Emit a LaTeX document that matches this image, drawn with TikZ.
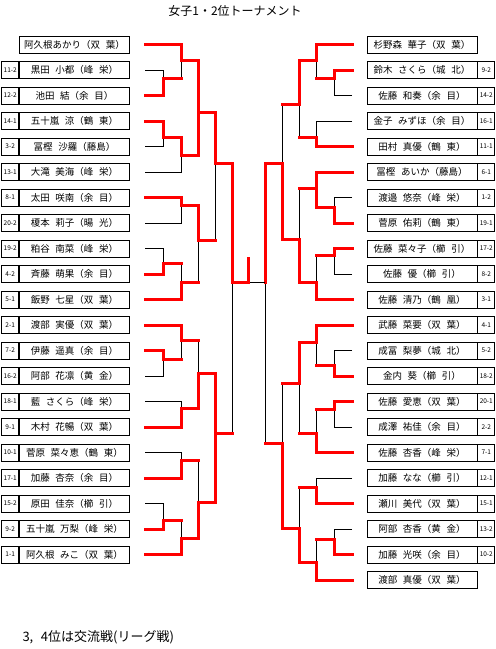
\documentclass[tikz,border=0pt]{standalone}
\usepackage{fontspec}
\setmainfont{Noto Sans CJK JP}[WordSpace=2.6]
\usetikzlibrary{positioning}

\begin{document}
\begin{tikzpicture}[x=1pt, y=-1pt,
  namebox/.style={draw, line width=0.8pt, minimum width=110pt, minimum height=17pt, inner sep=0pt, font=\fontsize{9.5}{10}\selectfont},
  seedbox/.style={draw, line width=0.8pt, minimum width=17pt, minimum height=17pt, inner sep=0pt, font=\fontsize{6.5}{7}\selectfont},
  win/.style={red, line width=3pt, line cap=rect},
  lose/.style={black, line width=0.8pt}]

  \useasboundingbox (0,0) rectangle (496,649);

  % Title and note
  \node[font=\fontsize{12}{14}\selectfont] (title) at (235,11) {女子1・2位トーナメント};
  \node[font=\fontsize{13}{15}\selectfont, anchor=west] (note) at (19,637) {3, 4位は交流戦(リーグ戦)};

  % Left Entries
  \foreach \k/\nm in {0/{阿久根あかり（双 葉）}, 1/{黒田 小都（峰 栄）}, 2/{池田 結（余 目）},
      3/{五十嵐 涼（鶴 東）}, 4/{冨樫 沙羅（藤島）}, 5/{大滝 美海（峰 栄）},
      6/{太田 咲南（余 目）}, 7/{榎本 莉子（暘 光）}, 8/{粕谷 南菜（峰 栄）},
      9/{斉藤 萌果（余 目）}, 10/{飯野 七星（双 葉）}, 11/{渡部 実優（双 葉）},
      12/{伊藤 遥真（余 目）}, 13/{阿部 花凛（黄 金）}, 14/{藍 さくら（峰 栄）},
      15/{木村 花暢（双 葉）}, 16/{菅原 菜々恵（鶴 東）}, 17/{加藤 杏奈（余 目）},
      18/{原田 佳奈（櫛 引）}, 19/{五十嵐 万梨（峰 栄）}, 20/{阿久根 みこ（双 葉）}} {
    \pgfmathsetmacro{\yy}{44.5+25.5*\k}
    \node[namebox] (L\k) at (74.5,\yy) {\nm};
    \coordinate (l\k) at (145,\yy);
  }
  \foreach \k/\sd in {1/11-2, 2/12-2, 3/14-1, 4/3-2, 5/13-1, 6/8-1, 7/20-2, 8/19-2, 9/4-2, 10/5-1,
      11/2-1, 12/7-2, 13/16-2, 14/18-1, 15/9-1, 16/10-1, 17/17-1, 18/15-2, 19/9-2, 20/1-1}
    \node[seedbox, left=0pt of L\k] (SL\k) {\sd};

  % Right Entries
  \foreach \k/\nm in {0/{杉野森 華子（双 葉）}, 1/{鈴木 さくら（城 北）}, 2/{佐藤 和奏（余 目）},
      3/{金子 みずほ（余 目）}, 4/{田村 真優（鶴 東）}, 5/{冨樫 あいか（藤島）}, 6/{渡邉 悠奈（峰 栄）},
      7/{菅原 佑莉（鶴 東）}, 8/{佐藤 菜々子（櫛 引）}, 9/{佐藤 優（櫛 引）}, 10/{佐藤 清乃（鶴 凰）},
      11/{武藤 菜要（双 葉）}, 12/{成冨 梨夢（城 北）}, 13/{金内 葵（櫛 引）}, 14/{佐藤 愛恵（双 葉）},
      15/{成澤 祐佳（余 目）}, 16/{佐藤 杏香（峰 栄）}, 17/{加藤 なな（櫛 引）}, 18/{瀬川 美代（双 葉）},
      19/{阿部 杏香（黄 金）}, 20/{加藤 光咲（余 目）}, 21/{渡部 真優（双 葉）}} {
    \pgfmathsetmacro{\yy}{44.5+25.5*\k}
    \node[namebox] (R\k) at (422,\yy) {\nm};
    \coordinate (r\k) at (352,\yy);
  }
  \foreach \k/\sd in {1/9-2, 2/14-2, 3/16-1, 4/11-1, 5/6-1, 6/1-2, 7/19-1, 8/17-2, 9/8-2, 10/3-1,
      11/4-1, 12/5-2, 13/18-2, 14/20-1, 15/2-2, 16/7-1, 17/12-1, 18/15-1, 19/13-2, 20/10-2}
    \node[seedbox, right=0pt of R\k] (SR\k) {\sd};

  % Match points
  \foreach \m/\x/\y in {a12/163/78, a02/181/60, a34/163/137, a35/181/155, a05/198/112,
      a67/181/205, a89/163/263, a810/181/282, a610/198/240, a010/215/163,
      a1213/163/359, a1113/181/340, a1415/181/408, a1115/198/373,
      a1617/181/460, a1819/163/520, a1820/181/538, a1620/198/502, a1120/215/433, sl/232/282,
      b12/334/78, b02/316/60, b34/316/137, b04/299/104, b67/334/207, b57/316/188,
      b89/334/255, b810/316/282, b510/299/239, b010/282/163,
      b1213/334/365, b1113/316/342, b1415/334/409, b1416/316/433, b1116/299/383,
      b1718/316/487, b1920/334/539, b1921/316/562, b1721/299/528, b1121/282/443, sr/265/282,
      champ/248.5/282, cup/248.5/258}
    \coordinate (\m) at (\x,\y);

  % Lost in first match
  \foreach \p/\m in {l1/a12, l4/a34, l5/a35, l7/a67, l8/a89, l13/a1213, l14/a1415, l16/a1617, l18/a1819,
      r2/b12, r3/b34, r6/b67, r9/b89, r12/b1213, r15/b1415, r17/b1718, r19/b1920}
    \draw[lose] (\p) -| (\m);

  % Lost after a win
  \foreach \p/\m in {a12/a02, a89/a810, a610/a010, a810/a610, a1213/a1113, a1113/a1115,
      a1617/a1620, a1819/a1820, a1120/sl,
      b12/b02, b34/b04, b57/b510, b89/b810, b04/b010, b1213/b1113, b1415/b1416,
      b1416/b1116, b1116/b1121, b1718/b1721, b1920/b1921, b1121/sr} {
    \draw[lose] (\p -| \m) -- (\m);
    \draw[win] (\p) -- (\p -| \m);
  }

  % Winners (red both ways where the chart marks it so)
  \foreach \p/\m in {l2/a12, l0/a02, l3/a34, a34/a35, a02/a05, a35/a05, l6/a67, l9/a89, l10/a810, a67/a610,
      a05/a010, l12/a1213, l11/a1113, l15/a1415, a1415/a1115, l17/a1617, l19/a1819, l20/a1820,
      a1820/a1620, a1115/a1120, a1620/a1120, a010/sl,
      r1/b12, r0/b02, r4/b34, b02/b04, r7/b67, r5/b57, b67/b57, r8/b89, r10/b810, b810/b510, b510/b010,
      r13/b1213, r11/b1113, r14/b1415, r16/b1416, b1113/b1116, r18/b1718, r20/b1920, r21/b1921,
      b1921/b1721, b1721/b1121, b010/sr}
    \draw[win] (\p) -| (\m);

  % Final
  \draw[lose] (sr) -- (champ);
  \draw[win] (sl) -- (champ) -- (cup);

\end{tikzpicture}
\end{document}
